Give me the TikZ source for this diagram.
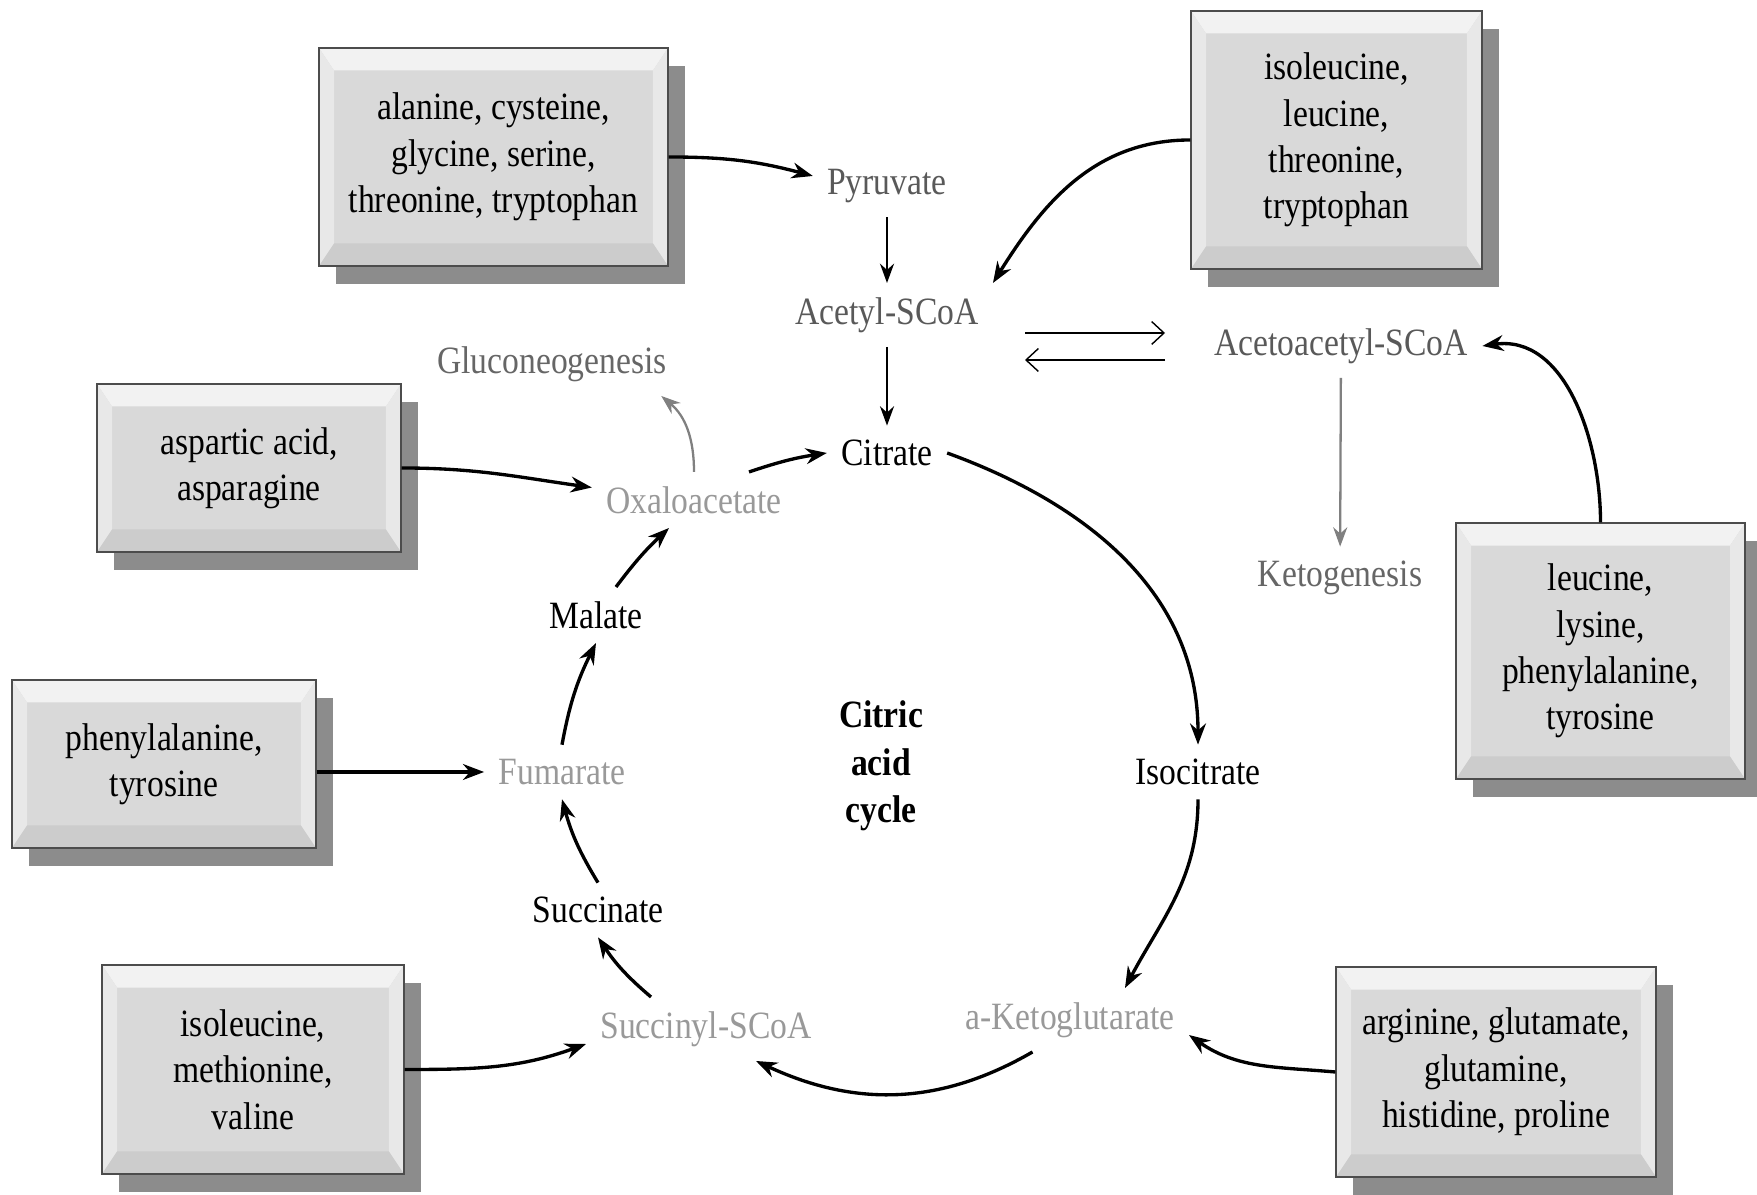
\documentclass[tikz,border=0pt]{standalone}
\usepackage{fontspec}
\setmainfont{Liberation Serif}[FakeStretch=0.87]
\usetikzlibrary{arrows.meta,shadows}

\begin{document}
\begin{tikzpicture}[x=0.02cm, y=0.02cm,
    every node/.style={font=\fontsize{22}{26.4}\selectfont},
    aabox/.style={draw=black!70, fill=black!15, line width=0.8pt, align=center, inner sep=0pt,
      drop shadow={shadow xshift=0.34cm, shadow yshift=-0.36cm, fill=black!45, opacity=1},
      path picture={
        \fill[black!5] (path picture bounding box.north west) -- (path picture bounding box.north east)
          -- ([shift={(-0.3cm,-0.45cm)}]path picture bounding box.north east)
          -- ([shift={(0.3cm,-0.45cm)}]path picture bounding box.north west) -- cycle;
        \fill[black!9] (path picture bounding box.north west) -- ([shift={(0.3cm,-0.45cm)}]path picture bounding box.north west)
          -- ([shift={(0.3cm,0.45cm)}]path picture bounding box.south west) -- (path picture bounding box.south west) -- cycle;
        \fill[black!9] (path picture bounding box.north east) -- ([shift={(-0.3cm,-0.45cm)}]path picture bounding box.north east)
          -- ([shift={(-0.3cm,0.45cm)}]path picture bounding box.south east) -- (path picture bounding box.south east) -- cycle;
        \fill[black!20] (path picture bounding box.south west) -- (path picture bounding box.south east)
          -- ([shift={(-0.3cm,0.45cm)}]path picture bounding box.south east)
          -- ([shift={(0.3cm,0.45cm)}]path picture bounding box.south west) -- cycle;
      }},
    met/.style={inner sep=8pt},
    flow/.style={line width=1.9pt, -{Stealth[length=12pt,width=9pt]}},
    thinflow/.style={line width=1.3pt, -{Stealth[length=11pt,width=8pt]}},
    grayflow/.style={line width=1.3pt, draw=black!50, -{Stealth[length=11pt,width=8pt]}},
    eqarrow/.style={line width=0.8pt, -{Straight Barb[length=7pt,width=13pt]}}]
  \useasboundingbox (0,0) rectangle (1757,1195);

  % amino acid boxes
  \node[aabox, minimum width=6.98cm, minimum height=4.36cm] (ala) at (493.5,1038) {alanine, cysteine,\\glycine, serine,\\threonine, tryptophan};
  \node[aabox, minimum width=5.82cm, minimum height=5.16cm] (ile) at (1336.5,1055) {isoleucine,\\leucine,\\threonine,\\tryptophan};
  \node[aabox, minimum width=6.08cm, minimum height=3.36cm] (asp) at (249,727) {aspartic acid,\\asparagine};
  \node[aabox, minimum width=6.08cm, minimum height=3.36cm] (phe) at (164,431) {phenylalanine,\\tyrosine};
  \node[aabox, minimum width=6.04cm, minimum height=4.18cm] (met) at (253,125.5) {isoleucine,\\methionine,\\valine};
  \node[aabox, minimum width=5.78cm, minimum height=5.12cm] (leu) at (1600.5,544) {leucine,\\lysine,\\phenylalanine,\\tyrosine};
  \node[aabox, minimum width=6.4cm, minimum height=4.2cm] (arg) at (1496,123) {arginine, glutamate,\\glutamine,\\histidine, proline};

  % metabolites
  \node[met, text=black!65] (pyr) at (887,1009) {Pyruvate};
  \node[met, text=black!65] (acetyl) at (887,880) {Acetyl-SCoA};
  \node[met, text=black!60] (glu) at (552,831) {Gluconeogenesis};
  \node[met] (cit) at (887,742) {Citrate};
  \node[met, text=black!40] (oxa) at (694,695) {Oxaloacetate};
  \node[met, text=black!65] (acac) at (1341,849) {Acetoacetyl-SCoA};
  \node[met, text=black!60] (keto) at (1340,617) {Ketogenesis};
  \node[met] (mal) at (596,580) {Malate};
  \node[met, text=black!40] (fum) at (562,423) {Fumarate};
  \node[met] (iso) at (1198,423) {Isocitrate};
  \node[met] (suc) at (598,285) {Succinate};
  \node[met, text=black!40] (sucl) at (706,166) {Succinyl-SCoA};
  \node[met, text=black!40] (aketo) at (1070,175) {a-Ketoglutarate};
  \node[align=center, font=\fontsize{22}{27}\selectfont\bfseries] (cac) at (881,429) {Citric\\acid\\cycle};

  \coordinate (eqL) at (1025,848);
  \coordinate (eqR) at (1165,848);

  % inputs
  \draw[flow] (ala.east) to[out=0,in=165] ([yshift=0.2cm]pyr.west);
  \draw[flow] (ile.west) to[out=180,in=58] (acetyl.north east);
  \draw[flow] (asp.east) to[out=0,in=172] ([yshift=0.25cm]oxa.west);
  \draw[flow] (phe.east |- fum.west) -- (fum.west);
  \draw[flow] (met.east) to[out=0,in=200] ([yshift=-0.3cm]sucl.west);
  \draw[flow] (leu.north) to[out=90,in=8] (acac.east);
  \draw[flow] (arg.west) to[out=175,in=-35] ([yshift=-0.3cm]aketo.east);

  % pathway
  \draw[thinflow] (pyr) -- (acetyl);
  \draw[thinflow] (acetyl) -- (cit);
  \draw[eqarrow] ([yshift=0.28cm]eqL) -- ([yshift=0.28cm]eqR);
  \draw[eqarrow] ([yshift=-0.26cm]eqR) -- ([yshift=-0.26cm]eqL);
  \draw[grayflow] (acac) -- (keto);
  \draw[grayflow] (oxa.north) to[out=90,in=-40] ([xshift=-0.4cm]glu.south east);

  % cycle
  \draw[flow] (cit.east) to[out=-20,in=90] (iso.north);
  \draw[flow] (iso.south) to[out=-90,in=62] ([xshift=1.1cm]aketo.north);
  \draw[flow] ([xshift=-0.75cm]aketo.south) to[out=-150,in=-25] ([xshift=1cm]sucl.south);
  \draw[flow] ([xshift=-1.1cm]sucl.north) to[bend left=8] (suc.south);
  \draw[flow] (suc.north) to[bend left=8] (fum.south);
  \draw[flow] (fum.north) to[bend left=8] (mal.south);
  \draw[flow] ([xshift=0.4cm]mal.north) to[bend left=5] ([xshift=-0.5cm]oxa.south);
  \draw[flow] ([xshift=1.1cm]oxa.north) to[bend left=5] (cit.west);
\end{tikzpicture}
\end{document}
